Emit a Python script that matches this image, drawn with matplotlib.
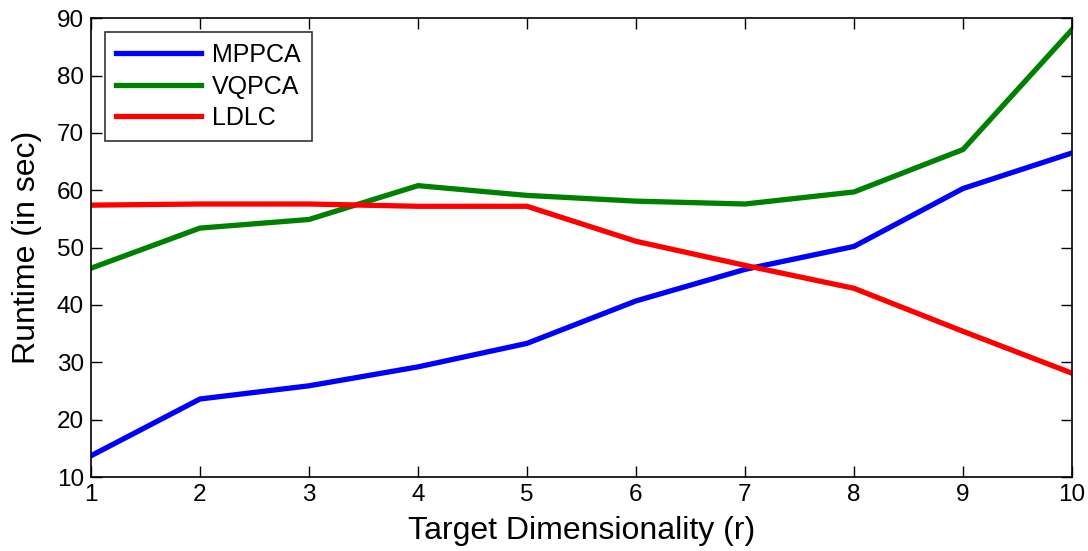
import matplotlib
matplotlib.use("Agg")
import matplotlib.pyplot as plt

plt.rcParams["font.family"] = ["Liberation Sans", "DejaVu Sans"]

# Runtime per target dimensionality
dims = [1, 2, 3, 4, 5, 6, 7, 8, 9, 10]
mppca = [13.7, 23.6, 25.9, 29.2, 33.3, 40.7, 46.2, 50.2, 60.3, 66.5]
vqpca = [46.4, 53.4, 54.9, 60.8, 59.1, 58.1, 57.6, 59.7, 67.1, 88.0]
ldlc = [57.4, 57.6, 57.6, 57.2, 57.2, 51.1, 46.9, 42.9, 35.4, 28.1]

fig = plt.figure(figsize=(10.88, 5.51), dpi=100)
ax = fig.add_axes([0.0836, 0.1343, 0.9017, 0.8327])

ax.plot(dims, mppca, color="#0000ff", linewidth=3.8, label="MPPCA")
ax.plot(dims, vqpca, color="#008000", linewidth=3.8, label="VQPCA")
ax.plot(dims, ldlc, color="#ff0000", linewidth=3.8, label="LDLC")

ax.set_xlim(1, 10)
ax.set_ylim(10, 90)
ax.set_xticks(dims)
ax.set_yticks(range(10, 91, 10))
ax.tick_params(direction="in", top=True, right=True, length=8, width=1,
               labelsize=17.5, pad=5)
for s in ax.spines.values():
    s.set_linewidth(1.2)

ax.set_xlabel("Target Dimensionality (r)", fontsize=23, labelpad=7)
ax.set_ylabel("Runtime (in sec)", fontsize=23, labelpad=11)

leg = ax.legend(loc="upper left", fontsize=18, frameon=True, fancybox=False,
                edgecolor="black", handlelength=3.4, borderaxespad=0.55,
                borderpad=0.45, labelspacing=0.3, handletextpad=0.45)
leg.get_frame().set_linewidth(1.2)

fig.savefig("out.png", dpi=100)
plt.close(fig)
